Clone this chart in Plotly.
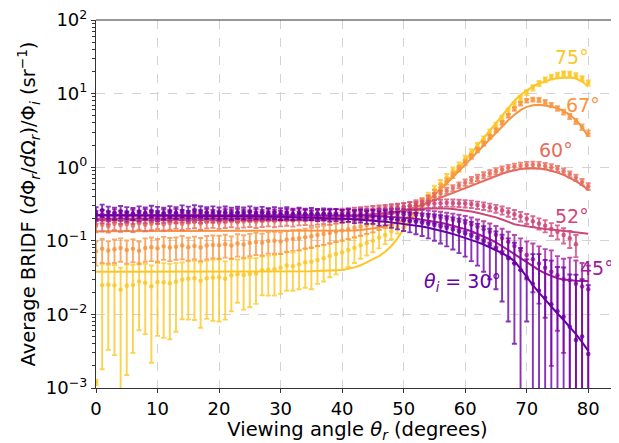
import plotly.graph_objects as go

# ---------------- data ----------------
angles = list(range(0, 81))
incidence = [75, 67, 60, 52, 45, 30]
colors = {75: "#fcc726", 67: "#f89540", 60: "#e66c5c", 52: "#cc4778", 45: "#a01a9c", 30: "#6a00a8"}

bridf_75 = [0.0012, 0.0248, 0.0253, 0.0248, 0.0217, 0.0245, 0.0250, 0.0281, 0.0270, 0.0242,
            0.0275, 0.0273, 0.0266, 0.0278, 0.0296, 0.0305, 0.0310, 0.0286, 0.0310, 0.0316,
            0.0320, 0.0305, 0.0340, 0.0350, 0.0343, 0.0355, 0.0359, 0.0397, 0.0405, 0.0410,
            0.0430, 0.0460, 0.0450, 0.0480, 0.0510, 0.0520, 0.0550, 0.0580, 0.0620, 0.0660,
            0.0700, 0.0750, 0.0800, 0.0870, 0.0930, 0.1000, 0.1100, 0.1200, 0.1350, 0.1550,
            0.180, 0.210, 0.260, 0.320, 0.400, 0.500, 0.600, 0.730, 0.900, 1.050,
            1.300, 1.600, 1.950, 2.400, 3.000, 3.700, 4.600, 5.800, 7.100, 8.600,
            10.30, 12.00, 13.80, 15.40, 16.80, 17.90, 18.60, 18.50, 17.60, 16.00,
            14.00]
err_75 = [0.0001, 0.023, 0.022, 0.022, 0.0215, 0.023, 0.022, 0.022, 0.0216, 0.022,
          0.0224, 0.0225, 0.022, 0.022, 0.021, 0.022, 0.0226, 0.022, 0.0223, 0.0234,
          0.024, 0.022, 0.023, 0.0206, 0.0227, 0.023, 0.022, 0.0215, 0.0225, 0.023,
          0.024, 0.025, 0.024, 0.026, 0.028, 0.030, 0.029, 0.030, 0.030, 0.031,
          0.030, 0.031, 0.030, 0.030, 0.030, 0.030, 0.031, 0.030, 0.030, 0.030,
          0.030, 0.035, 0.040, 0.045, 0.050, 0.060, 0.070, 0.080, 0.090, 0.110,
          0.13, 0.15, 0.18, 0.22, 0.27, 0.33, 0.40, 0.50, 0.60, 0.70,
          0.85, 1.0, 1.1, 1.2, 1.3, 1.35, 1.4, 1.4, 1.3, 1.2,
          1.1]

bridf_67 = [0.072, 0.078, 0.074, 0.077, 0.080, 0.075, 0.078, 0.073, 0.080, 0.082,
            0.079, 0.084, 0.081, 0.083, 0.086, 0.082, 0.085, 0.081, 0.086, 0.088,
            0.087, 0.090, 0.086, 0.092, 0.089, 0.093, 0.096, 0.094, 0.099, 0.100,
            0.098, 0.103, 0.106, 0.108, 0.112, 0.115, 0.120, 0.124, 0.128, 0.133,
            0.138, 0.143, 0.150, 0.156, 0.163, 0.170, 0.180, 0.190, 0.200, 0.215,
            0.230, 0.255, 0.285, 0.320, 0.370, 0.440, 0.530, 0.640, 0.780, 0.950,
            1.150, 1.400, 1.720, 2.100, 2.600, 3.200, 4.000, 5.000, 6.200, 7.300,
            8.000, 8.300, 8.200, 7.700, 7.000, 6.300, 5.600, 4.900, 4.200, 3.500,
            2.900]
err_67 = [0.026, 0.028, 0.025, 0.027, 0.028, 0.026, 0.027, 0.025, 0.028, 0.029,
          0.027, 0.029, 0.028, 0.028, 0.030, 0.028, 0.029, 0.028, 0.030, 0.030,
          0.030, 0.031, 0.029, 0.031, 0.030, 0.031, 0.032, 0.031, 0.032, 0.033,
          0.032, 0.033, 0.033, 0.034, 0.034, 0.035, 0.035, 0.036, 0.036, 0.037,
          0.037, 0.038, 0.038, 0.039, 0.039, 0.040, 0.040, 0.041, 0.041, 0.042,
          0.042, 0.043, 0.044, 0.045, 0.046, 0.050, 0.055, 0.060, 0.070, 0.080,
          0.09, 0.10, 0.12, 0.14, 0.17, 0.20, 0.24, 0.29, 0.34, 0.40,
          0.45, 0.48, 0.50, 0.50, 0.48, 0.45, 0.42, 0.38, 0.34, 0.30,
          0.26]

bridf_60 = [0.160, 0.165, 0.158, 0.170, 0.163, 0.168, 0.160, 0.172, 0.165, 0.170,
            0.175, 0.168, 0.173, 0.178, 0.170, 0.176, 0.180, 0.172, 0.178, 0.182,
            0.176, 0.181, 0.185, 0.178, 0.183, 0.187, 0.181, 0.186, 0.190, 0.185,
            0.190, 0.193, 0.188, 0.195, 0.198, 0.193, 0.200, 0.203, 0.200, 0.207,
            0.210, 0.215, 0.220, 0.225, 0.232, 0.240, 0.248, 0.257, 0.266, 0.276,
            0.288, 0.300, 0.320, 0.340, 0.370, 0.400, 0.440, 0.480, 0.520, 0.570,
            0.620, 0.670, 0.720, 0.780, 0.830, 0.880, 0.930, 0.980, 1.020, 1.050,
            1.070, 1.080, 1.070, 1.040, 1.000, 0.950, 0.880, 0.800, 0.720, 0.630,
            0.550]
err_60 = [0.030, 0.031, 0.029, 0.031, 0.030, 0.031, 0.029, 0.031, 0.030, 0.031,
          0.031, 0.030, 0.031, 0.032, 0.030, 0.031, 0.032, 0.031, 0.031, 0.032,
          0.031, 0.032, 0.032, 0.031, 0.032, 0.033, 0.032, 0.032, 0.033, 0.032,
          0.033, 0.033, 0.032, 0.033, 0.034, 0.033, 0.034, 0.034, 0.034, 0.034,
          0.034, 0.034, 0.035, 0.035, 0.035, 0.035, 0.035, 0.035, 0.035, 0.035,
          0.035, 0.036, 0.037, 0.038, 0.040, 0.042, 0.044, 0.046, 0.048, 0.050,
          0.060, 0.065, 0.070, 0.075, 0.080, 0.085, 0.090, 0.095, 0.100, 0.105,
          0.110, 0.110, 0.110, 0.100, 0.100, 0.090, 0.080, 0.075, 0.070, 0.060,
          0.055]

bridf_52 = [0.200, 0.205, 0.197, 0.210, 0.200, 0.206, 0.199, 0.208, 0.203, 0.210,
            0.200, 0.207, 0.212, 0.203, 0.209, 0.205, 0.212, 0.207, 0.213, 0.208,
            0.215, 0.210, 0.216, 0.212, 0.218, 0.214, 0.219, 0.215, 0.221, 0.217,
            0.222, 0.219, 0.225, 0.221, 0.227, 0.224, 0.230, 0.227, 0.233, 0.236,
            0.240, 0.244, 0.248, 0.252, 0.257, 0.262, 0.267, 0.273, 0.279, 0.285,
            0.290, 0.297, 0.303, 0.310, 0.315, 0.320, 0.325, 0.328, 0.327, 0.325,
            0.320, 0.315, 0.306, 0.297, 0.286, 0.274, 0.260, 0.245, 0.230, 0.215,
            0.200, 0.185, 0.172, 0.160, 0.145, 0.133, 0.120, 0.108, 0.090, None,
            None]
err_52 = [0.030, 0.031, 0.029, 0.032, 0.030, 0.031, 0.029, 0.031, 0.030, 0.032,
          0.030, 0.031, 0.032, 0.030, 0.031, 0.030, 0.032, 0.031, 0.032, 0.031,
          0.032, 0.031, 0.032, 0.031, 0.032, 0.031, 0.032, 0.031, 0.032, 0.031,
          0.032, 0.031, 0.032, 0.031, 0.032, 0.031, 0.032, 0.032, 0.033, 0.033,
          0.033, 0.033, 0.034, 0.034, 0.034, 0.035, 0.035, 0.035, 0.035, 0.035,
          0.035, 0.036, 0.036, 0.036, 0.036, 0.037, 0.037, 0.037, 0.037, 0.037,
          0.036, 0.036, 0.035, 0.035, 0.034, 0.034, 0.033, 0.033, 0.032, 0.032,
          0.031, 0.031, 0.030, 0.030, 0.029, 0.029, 0.028, 0.028, 0.030, 0.0,
          0.0]

bridf_45 = [0.220, 0.226, 0.218, 0.230, 0.222, 0.216, 0.228, 0.221, 0.232, 0.224,
            0.219, 0.230, 0.225, 0.233, 0.227, 0.221, 0.231, 0.226, 0.234, 0.228,
            0.222, 0.232, 0.227, 0.235, 0.229, 0.224, 0.233, 0.228, 0.236, 0.230,
            0.225, 0.234, 0.229, 0.236, 0.231, 0.226, 0.234, 0.229, 0.236, 0.232,
            0.228, 0.234, 0.230, 0.236, 0.232, 0.229, 0.234, 0.231, 0.235, 0.232,
            0.230, 0.228, 0.226, 0.222, 0.218, 0.213, 0.207, 0.200, 0.193, 0.185,
            0.176, 0.166, 0.155, 0.144, 0.133, 0.121, 0.109, 0.097, 0.085, 0.074,
            0.064, 0.056, 0.049, 0.043, 0.038, 0.034, 0.030, 0.029, 0.026, 0.024,
            0.022]
err_45 = [0.035, 0.036, 0.034, 0.037, 0.035, 0.034, 0.036, 0.035, 0.037, 0.035,
          0.034, 0.036, 0.035, 0.037, 0.035, 0.034, 0.036, 0.035, 0.037, 0.035,
          0.034, 0.036, 0.035, 0.037, 0.035, 0.034, 0.036, 0.035, 0.037, 0.035,
          0.034, 0.036, 0.035, 0.037, 0.035, 0.034, 0.036, 0.035, 0.037, 0.035,
          0.035, 0.036, 0.035, 0.037, 0.036, 0.036, 0.037, 0.037, 0.038, 0.038,
          0.038, 0.039, 0.039, 0.040, 0.040, 0.040, 0.041, 0.041, 0.041, 0.041,
          0.041, 0.041, 0.040, 0.040, 0.039, 0.038, 0.037, 0.036, 0.035, 0.034,
          0.034, 0.036, 0.035, 0.034, 0.036, 0.028, 0.027, 0.030, 0.028, 0.026,
          0.024]

bridf_30 = [0.240, 0.260, 0.245, 0.238, 0.250, 0.242, 0.236, 0.248, 0.240, 0.252,
            0.244, 0.238, 0.250, 0.243, 0.255, 0.246, 0.258, 0.250, 0.242, 0.248,
            0.240, 0.246, 0.238, 0.245, 0.240, 0.248, 0.239, 0.244, 0.236, 0.242,
            0.235, 0.240, 0.232, 0.238, 0.230, 0.235, 0.227, 0.232, 0.224, 0.228,
            0.220, 0.224, 0.216, 0.220, 0.212, 0.215, 0.207, 0.210, 0.200, 0.195,
            0.190, 0.186, 0.181, 0.176, 0.170, 0.164, 0.157, 0.150, 0.142, 0.134,
            0.126, 0.117, 0.108, 0.098, 0.088, 0.078, 0.068, 0.058, 0.049, 0.040,
            0.032, 0.026, 0.021, 0.0168, 0.0137, 0.011, 0.0093, 0.0068, 0.0045, 0.005,
            0.0029]
err_30 = [0.045, 0.050, 0.046, 0.044, 0.047, 0.045, 0.043, 0.046, 0.044, 0.047,
          0.045, 0.043, 0.046, 0.044, 0.048, 0.045, 0.047, 0.045, 0.043, 0.046,
          0.044, 0.046, 0.043, 0.045, 0.044, 0.046, 0.043, 0.045, 0.042, 0.044,
          0.043, 0.045, 0.042, 0.044, 0.042, 0.044, 0.042, 0.043, 0.042, 0.043,
          0.042, 0.043, 0.042, 0.043, 0.042, 0.045, 0.046, 0.048, 0.050, 0.052,
          0.054, 0.056, 0.058, 0.060, 0.062, 0.064, 0.065, 0.066, 0.066, 0.066,
          0.065, 0.064, 0.062, 0.060, 0.058, 0.056, 0.053, 0.050, 0.045, 0.040,
          0.024, 0.040, 0.045, 0.038, 0.040, 0.033, 0.034, 0.028, 0.030, 0.025,
          0.022]

model_x = [0, 10, 20, 30, 35,
           40, 41, 42, 43, 44, 45, 46, 47, 48, 49,
           50, 51, 52, 53, 54, 55, 56, 57, 58, 59,
           60, 61, 62, 63, 64, 65, 66, 67, 68, 69,
           70, 71, 72, 73, 74, 75, 76, 77, 78, 79, 80]

model_75 = [0.038, 0.038, 0.038, 0.038, 0.0385,
            0.040, 0.0415, 0.0435, 0.0465, 0.051, 0.056, 0.062, 0.071, 0.085, 0.108,
            0.145, 0.19, 0.235, 0.285, 0.345, 0.42, 0.51, 0.63, 0.78, 0.97,
            1.22, 1.55, 1.98, 2.5, 3.15, 4.0, 5.1, 6.4, 8.0, 9.6,
            11.1, 12.5, 13.7, 14.8, 15.6, 16.2, 16.5, 16.5, 16.0, 14.6, 12.5]
model_67 = [0.135, 0.135, 0.135, 0.135, 0.135,
            0.136, 0.137, 0.138, 0.140, 0.143, 0.147, 0.152, 0.158, 0.166, 0.177,
            0.19, 0.215, 0.25, 0.295, 0.35, 0.42, 0.5, 0.6, 0.73, 0.89,
            1.08, 1.32, 1.6, 1.95, 2.4, 2.95, 3.6, 4.35, 5.15, 5.95,
            6.6, 6.95, 7.05, 6.95, 6.7, 6.3, 5.8, 5.15, 4.4, 3.5, 2.6]
model_60 = [0.19, 0.19, 0.19, 0.19, 0.19,
            0.195, 0.197, 0.2, 0.203, 0.207, 0.212, 0.218, 0.225, 0.234, 0.244,
            0.256, 0.27, 0.288, 0.308, 0.332, 0.358, 0.386, 0.417, 0.45, 0.485,
            0.525, 0.57, 0.615, 0.665, 0.715, 0.765, 0.815, 0.865, 0.91, 0.945,
            0.965, 0.97, 0.96, 0.935, 0.895, 0.845, 0.785, 0.72, 0.645, 0.57, 0.49]
model_52 = [0.2, 0.2, 0.202, 0.205, 0.208,
            0.213, 0.215, 0.218, 0.221, 0.225, 0.229, 0.234, 0.239, 0.245, 0.251,
            0.257, 0.263, 0.268, 0.272, 0.275, 0.276, 0.276, 0.274, 0.27, 0.265,
            0.258, 0.25, 0.241, 0.231, 0.22, 0.208, 0.195, 0.182, 0.168, 0.162,
            0.157, 0.153, 0.149, 0.145, 0.142, 0.139, 0.136, 0.133, 0.13, 0.127, 0.125]
model_45 = [0.225, 0.225, 0.225, 0.225, 0.225,
            0.224, 0.223, 0.222, 0.221, 0.22, 0.219, 0.217, 0.215, 0.213, 0.21,
            0.207, 0.203, 0.199, 0.194, 0.189, 0.183, 0.176, 0.169, 0.161, 0.153,
            0.144, 0.135, 0.125, 0.115, 0.105, 0.095, 0.085, 0.075, 0.066, 0.058,
            0.051, 0.045, 0.04, 0.036, 0.033, 0.031, 0.0297, 0.029, 0.0286, 0.0285, 0.0285]
model_30 = [0.22, 0.22, 0.218, 0.213, 0.208,
            0.2, 0.198, 0.196, 0.194, 0.191, 0.188, 0.185, 0.182, 0.178, 0.174,
            0.17, 0.166, 0.161, 0.156, 0.15, 0.144, 0.138, 0.131, 0.124, 0.117,
            0.11, 0.103, 0.096, 0.089, 0.082, 0.075, 0.068, 0.061, 0.053, 0.042,
            0.032, 0.025, 0.0198, 0.0158, 0.0127, 0.0103, 0.0084, 0.0068, 0.0054, 0.0042, 0.0032]

points = {75: bridf_75, 67: bridf_67, 60: bridf_60, 52: bridf_52, 45: bridf_45, 30: bridf_30}
errors = {75: err_75, 67: err_67, 60: err_60, 52: err_52, 45: err_45, 30: err_30}
models = {75: model_75, 67: model_67, 60: model_60, 52: model_52, 45: model_45, 30: model_30}

# label positions (x in degrees, y as log10 value)
label_text = {75: "75°", 67: "67°", 60: "60°", 52: "52°", 45: "45°",
              30: "<i>θ<sub>i</sub></i> = 30°"}
label_x = {75: 77.4, 67: 79.1, 60: 74.8, 52: 77.3, 45: 81.5, 30: 59.6}
label_logy = {75: 1.497, 67: 0.845, 60: 0.234, 52: -0.663, 45: -1.37, 30: -1.573}

ytick_vals = [0.001, 0.01, 0.1, 1, 10, 100]
ytick_text = ["10<sup>−3</sup>", "10<sup>−2</sup>", "10<sup>−1</sup>",
              "10<sup>0</sup>", "10<sup>1</sup>", "10<sup>2</sup>"]
xtick_vals = [0, 10, 20, 30, 40, 50, 60, 70, 80]


def rgba(hex_color, a):
    h = hex_color.lstrip("#")
    r, g, b = int(h[0:2], 16), int(h[2:4], 16), int(h[4:6], 16)
    return f"rgba({r},{g},{b},{a})"


FONT = "DejaVu Sans"
fig = go.Figure()

for th in incidence:
    c = colors[th]
    fig.add_trace(go.Scatter(
        x=angles, y=points[th], mode="markers",
        marker=dict(size=4.5, color=rgba(c, 0.85), line=dict(width=0)),
        error_y=dict(type="data", array=errors[th], symmetric=True,
                     color=rgba(c, 0.8), thickness=1.9, width=2.5),
        showlegend=False, hoverinfo="skip"))
    fig.add_trace(go.Scatter(
        x=model_x, y=models[th], mode="lines",
        line=dict(color=c, width=2),
        showlegend=False, hoverinfo="skip"))

for th in incidence:
    fig.add_annotation(x=label_x[th], y=label_logy[th], text=label_text[th],
                       showarrow=False, xanchor="center", yanchor="middle",
                       font=dict(family=FONT, size=19, color=colors[th]))

fig.add_shape(type="line", xref="paper", yref="paper", x0=0, x1=1, y0=1, y1=1,
              line=dict(color="#333333", width=1.2))

# the page body adds an 8px offset, so the figure is sized 8px smaller
fig.update_layout(
    width=611, height=435,
    margin=dict(l=88, r=0, t=12, b=55, autoexpand=False),
    paper_bgcolor="white", plot_bgcolor="white",
    font=dict(family=FONT, size=18, color="black"),
    xaxis=dict(
        range=[0, 85], tickvals=xtick_vals, ticks="outside", ticklen=4,
        tickcolor="#333333", tickwidth=1, automargin=False,
        ticklabeloverflow="allow",
        showline=True, linecolor="#333333", linewidth=1.2,
        showgrid=True, gridcolor="#d3d3d3", griddash="dash", gridwidth=1,
        zeroline=False, tickfont=dict(size=18, family=FONT),
        title=dict(text="Viewing angle <i>θ<sub>r</sub></i> (degrees)",
                   font=dict(size=19.5, family=FONT), standoff=1),
    ),
    yaxis=dict(
        type="log", range=[-3, 2], tickvals=ytick_vals, ticktext=ytick_text,
        ticks="outside", ticklen=4, tickcolor="#333333", tickwidth=1, automargin=False,
        ticklabeloverflow="allow",
        showline=True, linecolor="#333333", linewidth=1.2,
        showgrid=True, gridcolor="#d3d3d3", griddash="dash", gridwidth=1,
        zeroline=False, tickfont=dict(size=18, family=FONT),
        minor=dict(ticks="outside", ticklen=2.5, tickcolor="#333333", dtick="D1", showgrid=False),
        title=dict(text="Average BRIDF (<i>d</i>Φ<sub><i>r</i></sub>/<i>d</i>Ω<sub><i>r</i></sub>)/Φ<sub><i>i</i></sub> (sr<sup>−1</sup>)",
                   font=dict(size=19.5, family=FONT), standoff=4),
    ),
)

fig.write_html("out.html")
